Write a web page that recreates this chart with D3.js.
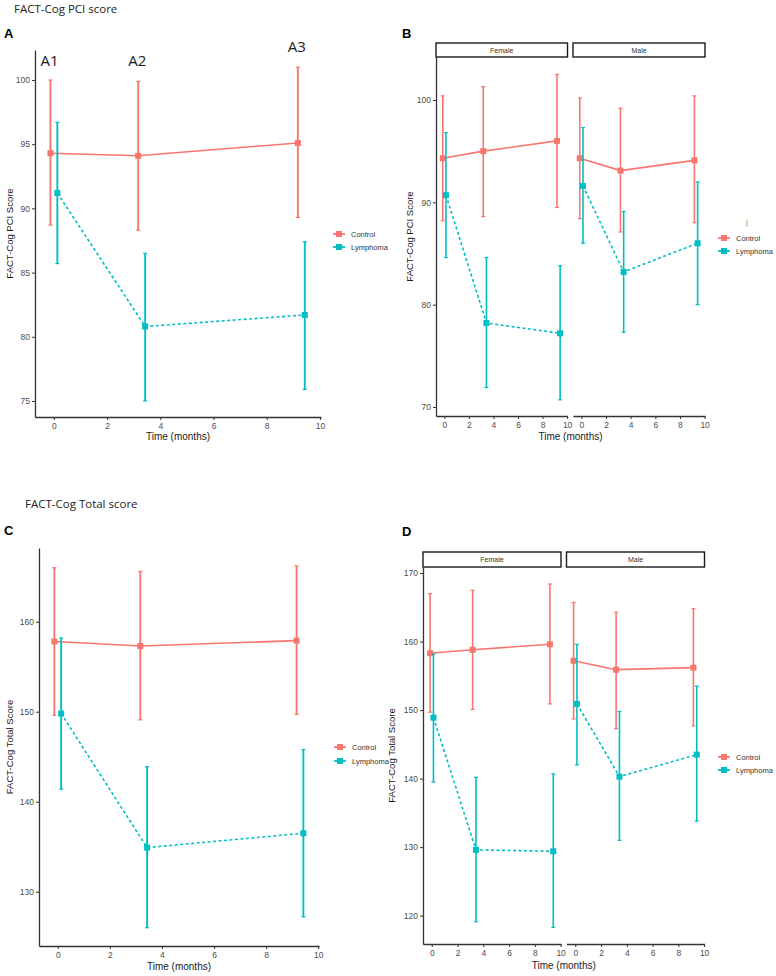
<!DOCTYPE html>
<html><head><meta charset="utf-8">
<script src="https://cdn.jsdelivr.net/npm/d3@7"></script>
<style>body{margin:0;background:#fff}svg{display:block}</style>
</head><body>
<script>
// ---------- DATA ----------
const times = [0, 3.3, 9.3];
const timeTicks = [0, 2, 4, 6, 8, 10];
const groups = ["Control", "Lymphoma"];
const facetsSex = ["Female", "Male"];

// A: PCI overall
const pciControlMean = [94.3, 94.1, 95.1];
const pciControlLo   = [88.7, 88.3, 89.3];
const pciControlHi   = [100.0, 99.9, 101.0];
const pciLymphMean   = [91.2, 80.8, 81.7];
const pciLymphLo     = [85.7, 75.0, 75.9];
const pciLymphHi     = [96.7, 86.5, 87.4];
const pciTicksA = [75, 80, 85, 90, 95, 100];
const timepointLabels = ["A1", "A2", "A3"];

// B: PCI by sex
const pciFemControlMean = [94.3, 95.0, 96.0];
const pciFemControlLo   = [88.2, 88.6, 89.5];
const pciFemControlHi   = [100.4, 101.3, 102.5];
const pciFemLymphMean   = [90.7, 78.2, 77.2];
const pciFemLymphLo     = [84.6, 71.9, 70.7];
const pciFemLymphHi     = [96.8, 84.6, 83.8];
const pciMalControlMean = [94.3, 93.1, 94.1];
const pciMalControlLo   = [88.4, 87.1, 88.0];
const pciMalControlHi   = [100.2, 99.2, 100.4];
const pciMalLymphMean   = [91.6, 83.2, 86.0];
const pciMalLymphLo     = [86.0, 77.3, 80.0];
const pciMalLymphHi     = [97.3, 89.1, 92.0];
const pciTicksB = [70, 80, 90, 100];

// C: Total overall
const totControlMean = [157.8, 157.3, 157.9];
const totControlLo   = [149.6, 149.1, 149.7];
const totControlHi   = [166.0, 165.6, 166.2];
const totLymphMean   = [149.8, 134.9, 136.5];
const totLymphLo     = [141.4, 126.0, 127.2];
const totLymphHi     = [158.2, 143.9, 145.8];
const totTicksC = [130, 140, 150, 160];

// D: Total by sex
const totFemControlMean = [158.3, 158.8, 159.6];
const totFemControlLo   = [149.7, 150.1, 150.9];
const totFemControlHi   = [167.0, 167.5, 168.4];
const totFemLymphMean   = [148.9, 129.6, 129.4];
const totFemLymphLo     = [139.5, 119.1, 118.3];
const totFemLymphHi     = [158.2, 140.2, 140.7];
const totMalControlMean = [157.2, 155.9, 156.2];
const totMalControlLo   = [148.7, 147.3, 147.7];
const totMalControlHi   = [165.7, 164.3, 164.8];
const totMalLymphMean   = [150.9, 140.3, 143.5];
const totMalLymphLo     = [142.0, 131.0, 133.8];
const totMalLymphHi     = [159.6, 149.8, 153.5];
const totTicksD = [120, 130, 140, 150, 160, 170];

// ---------- STYLE ----------
const colors = {Control: "#F8766D", Lymphoma: "#00BFC4"};
const dodge = {Control: -0.13, Lymphoma: 0.13};
const axisColor = "#333";
const tickTextColor = "#4d4d4d";
const ggFont = "'Liberation Sans', Arial, sans-serif";
const titleFont = "'Open Sans', 'Liberation Sans', sans-serif";
const PT = 6;

const svg = d3.select("body").append("svg").attr("width", 776).attr("height", 976);

function mkSeries(mean, lo, hi) {
  return times.map((t, i) => ({t, mean: mean[i], lo: lo[i], hi: hi[i]}));
}

function drawPanel(cfg) {
  const y = d3.scaleLinear().domain(cfg.yDomain).range(cfg.yRange);
  cfg.facets.forEach((f, fi) => {
    const x = d3.scaleLinear().domain(cfg.xDomain).range(f.xRange);
    if (f.name) {
      svg.append("rect").attr("x", f.xRange[0]).attr("y", cfg.strip[0])
        .attr("width", f.xRange[1] - f.xRange[0]).attr("height", cfg.strip[1] - cfg.strip[0])
        .attr("fill", "#fff").attr("stroke", "#1a1a1a").attr("stroke-width", 1.4);
      svg.append("text").attr("x", (f.xRange[0] + f.xRange[1]) / 2).attr("y", (cfg.strip[0] + cfg.strip[1]) / 2 + 2.5)
        .attr("text-anchor", "middle").attr("font-family", ggFont).attr("font-size", 7)
        .attr("fill", "#333").text(f.name);
    }
    const gx = svg.append("g").attr("transform", `translate(0,${cfg.yRange[0]})`)
      .call(d3.axisBottom(x).tickValues(timeTicks).tickSize(3).tickSizeOuter(0).tickPadding(3));
    gx.select(".domain").attr("stroke", axisColor).attr("stroke-width", 1.3);
    gx.selectAll(".tick line").attr("stroke", axisColor);
    gx.selectAll(".tick text").attr("fill", tickTextColor).attr("font-family", ggFont).attr("font-size", 8.5);
    if (fi === 0) {
      const gy = svg.append("g").attr("transform", `translate(${f.xRange[0]},0)`)
        .call(d3.axisLeft(y).tickValues(cfg.yTicks).tickSize(3).tickSizeOuter(0).tickPadding(2));
      gy.select(".domain").attr("stroke", axisColor).attr("stroke-width", 1.3);
      gy.selectAll(".tick line").attr("stroke", axisColor);
      gy.selectAll(".tick text").attr("fill", tickTextColor).attr("font-family", ggFont).attr("font-size", 8.5);
    }
    f.series.forEach(s => {
      const col = colors[s.group];
      const off = dodge[s.group];
      const g = svg.append("g");
      s.data.forEach(d => {
        const xx = x(d.t + off);
        g.append("line").attr("x1", xx).attr("x2", xx).attr("y1", y(d.lo)).attr("y2", y(d.hi))
          .attr("stroke", col).attr("stroke-width", cfg.ebWidth);
        [d.lo, d.hi].forEach(v => g.append("line").attr("x1", xx - 2).attr("x2", xx + 2)
          .attr("y1", y(v)).attr("y2", y(v)).attr("stroke", col).attr("stroke-width", 1.2));
      });
      g.append("path").datum(s.data)
        .attr("d", d3.line().x(d => x(d.t + off)).y(d => y(d.mean)))
        .attr("fill", "none").attr("stroke", col).attr("stroke-width", 1.6)
        .attr("stroke-dasharray", s.group === "Lymphoma" ? "3,2.5" : null);
      g.selectAll("rect.pt").data(s.data).enter().append("rect")
        .attr("x", d => x(d.t + off) - PT / 2).attr("y", d => y(d.mean) - PT / 2)
        .attr("width", PT).attr("height", PT).attr("fill", col);
    });
  });
  const xr = [cfg.facets[0].xRange[0], cfg.facets[cfg.facets.length - 1].xRange[1]];
  svg.append("text").attr("x", (xr[0] + xr[1]) / 2).attr("y", cfg.xTitleY)
    .attr("text-anchor", "middle").attr("font-family", ggFont).attr("font-size", 10)
    .attr("fill", "#1a1a1a").text("Time (months)");
  svg.append("text").attr("transform", `translate(${cfg.yTitleX},${(cfg.yRange[0] + cfg.yRange[1]) / 2}) rotate(-90)`)
    .attr("text-anchor", "middle").attr("font-family", ggFont).attr("font-size", 9.5)
    .attr("fill", "#1a1a1a").text(cfg.yTitle);
  groups.forEach((gname, i) => {
    const ly = cfg.legend.y + i * cfg.legend.dy;
    const col = colors[gname];
    svg.append("line").attr("x1", cfg.legend.x - 6).attr("x2", cfg.legend.x + 6)
      .attr("y1", ly).attr("y2", ly).attr("stroke", col).attr("stroke-width", 1.8);
    svg.append("rect").attr("x", cfg.legend.x - 3).attr("y", ly - 3).attr("width", 6).attr("height", 6).attr("fill", col);
    svg.append("text").attr("x", cfg.legend.x + 12).attr("y", ly + 2.7)
      .attr("font-family", ggFont).attr("font-size", 7.5).attr("fill", "#333").text(gname);
  });
  svg.append("text").attr("x", cfg.letter[0]).attr("y", cfg.letter[1])
    .attr("font-family", ggFont).attr("font-weight", "bold").attr("font-size", 13)
    .attr("fill", "#000").text(cfg.letter[2]);
  return y;
}

svg.append("text").attr("x", 14).attr("y", 13).attr("font-family", titleFont)
  .attr("font-size", 11.5).attr("fill", "#222").text("FACT-Cog PCI score");
svg.append("text").attr("x", 25).attr("y", 508).attr("font-family", titleFont)
  .attr("font-size", 11.5).attr("fill", "#222").text("FACT-Cog Total score");

// Panel A
const xDomA = [-0.71, 10.04];
drawPanel({
  letter: [4, 38, "A"],
  yDomain: [73.75, 102.34], yRange: [417, 50], yTicks: pciTicksA,
  xDomain: xDomA,
  facets: [{xRange: [35, 321], series: [
    {group: "Control", data: mkSeries(pciControlMean, pciControlLo, pciControlHi)},
    {group: "Lymphoma", data: mkSeries(pciLymphMean, pciLymphLo, pciLymphHi)}]}],
  ebWidth: 1.9, xTitleY: 440, yTitleX: 13, yTitle: "FACT-Cog PCI Score",
  legend: {x: 339, y: 234, dy: 13}
});
{
  const xA = d3.scaleLinear().domain(xDomA).range([35, 321]);
  const labelY = [66, 66, 52];
  timepointLabels.forEach((lab, i) => {
    svg.append("text").attr("x", xA(times[i] + dodge.Control) - 1).attr("y", labelY[i])
      .attr("text-anchor", "middle").attr("font-family", titleFont).attr("font-size", 15)
      .attr("fill", "#1a1a1a").text(lab);
  });
}

// Panel B
drawPanel({
  letter: [402, 38, "B"],
  yDomain: [69.12, 104.2], yRange: [416, 57], yTicks: pciTicksB,
  xDomain: [-0.68, 10.03], strip: [43, 57],
  facets: [
    {name: "Female", xRange: [436, 567.5], series: [
      {group: "Control", data: mkSeries(pciFemControlMean, pciFemControlLo, pciFemControlHi)},
      {group: "Lymphoma", data: mkSeries(pciFemLymphMean, pciFemLymphLo, pciFemLymphHi)}]},
    {name: "Male", xRange: [573, 705], series: [
      {group: "Control", data: mkSeries(pciMalControlMean, pciMalControlLo, pciMalControlHi)},
      {group: "Lymphoma", data: mkSeries(pciMalLymphMean, pciMalLymphLo, pciMalLymphHi)}]}],
  ebWidth: 1.6, xTitleY: 440, yTitleX: 413, yTitle: "FACT-Cog PCI Score",
  legend: {x: 724, y: 238, dy: 13}
});
svg.append("text").attr("x", 747).attr("y", 225).attr("text-anchor", "middle")
  .attr("font-family", ggFont).attr("font-size", 7).attr("fill", "#666").text("|");

// Panel C
drawPanel({
  letter: [4, 535, "C"],
  yDomain: [123.97, 168.19], yRange: [946, 548], yTicks: totTicksC,
  xDomain: [-0.72, 10.03],
  facets: [{xRange: [39, 319], series: [
    {group: "Control", data: mkSeries(totControlMean, totControlLo, totControlHi)},
    {group: "Lymphoma", data: mkSeries(totLymphMean, totLymphLo, totLymphHi)}]}],
  ebWidth: 1.9, xTitleY: 970, yTitleX: 13, yTitle: "FACT-Cog Total Score",
  legend: {x: 340, y: 747, dy: 14}
});

// Panel D
drawPanel({
  letter: [402, 536, "D"],
  yDomain: [115.87, 170.88], yRange: [944, 567], yTicks: totTicksD,
  xDomain: [-0.68, 10.03], strip: [552, 567],
  facets: [
    {name: "Female", xRange: [423, 561], series: [
      {group: "Control", data: mkSeries(totFemControlMean, totFemControlLo, totFemControlHi)},
      {group: "Lymphoma", data: mkSeries(totFemLymphMean, totFemLymphLo, totFemLymphHi)}]},
    {name: "Male", xRange: [566.5, 704.5], series: [
      {group: "Control", data: mkSeries(totMalControlMean, totMalControlLo, totMalControlHi)},
      {group: "Lymphoma", data: mkSeries(totMalLymphMean, totMalLymphLo, totMalLymphHi)}]}],
  ebWidth: 1.6, xTitleY: 969, yTitleX: 395, yTitle: "FACT-Cog Total Score",
  legend: {x: 724, y: 757, dy: 13}
});
</script>
</body></html>
